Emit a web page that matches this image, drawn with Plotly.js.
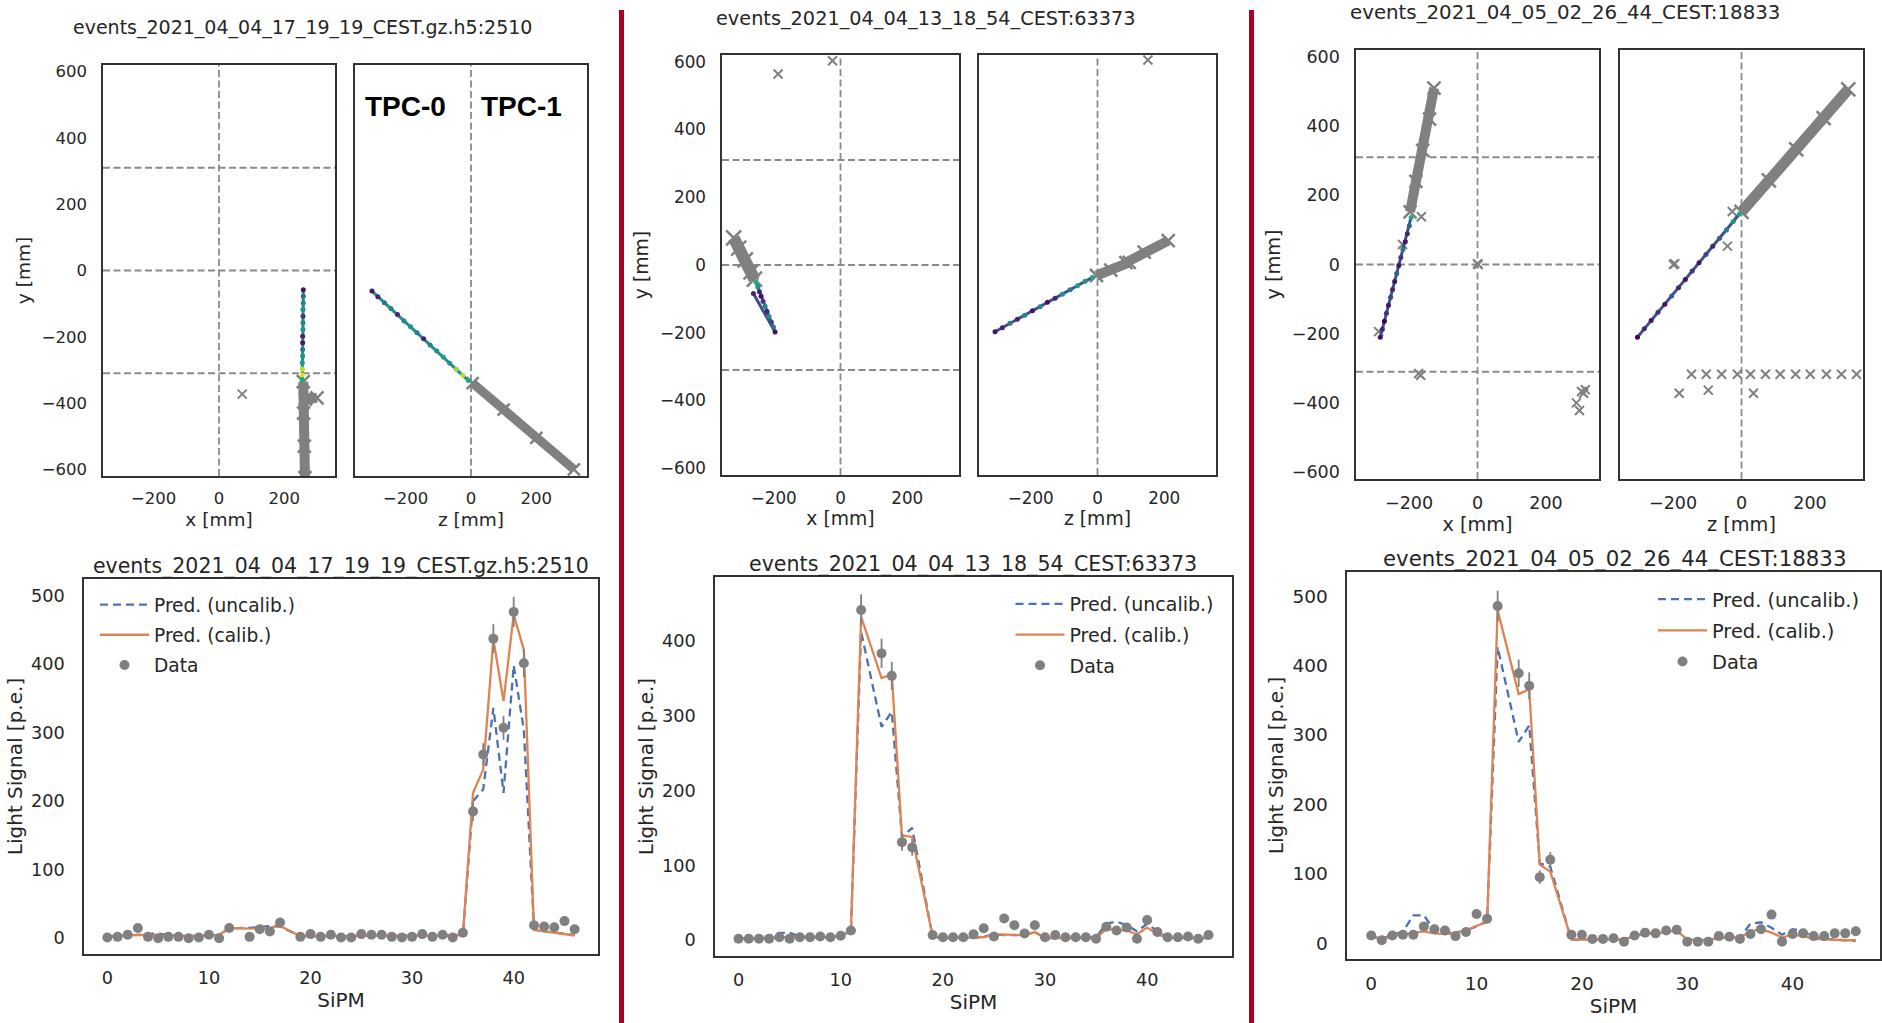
<!DOCTYPE html>
<html><head><meta charset="utf-8">
<script src="https://cdn.plot.ly/plotly-3.0.1.min.js"></script>
<style>html,body{margin:0;padding:0;background:#fff;}#chart{width:1882px;height:1023px;}</style>
</head><body><div id="chart"></div>
<script>
// ================= DATA =================
const eventNames = [
  "events_2021_04_04_17_19_19_CEST.gz.h5:2510",
  "events_2021_04_04_13_18_54_CEST:63373",
  "events_2021_04_05_02_26_44_CEST:18833"
];
const tpcLabels = ["TPC-0", "TPC-1"];
const tpcLabelZ = [-199, 156];
const tpcLabelY = [496, 496];
const boundaryY = [-310, 0, 310];
const boundaryX = [0];
const topXTicks = [-200, 0, 200];
const topYTicks = [-600, -400, -200, 0, 200, 400, 600];
const sipmTicks = [0, 10, 20, 30, 40];
const signalTicks1 = [0, 100, 200, 300, 400, 500];
const signalTicks2 = [0, 100, 200, 300, 400];
const signalTicks3 = [0, 100, 200, 300, 400, 500];

// ---- event 1 (17_19_19) track ----
const ev1TrackX = [258,258,258,257,257,257,257,256,256,256,256,255,255,255,255];
const ev1TrackXY = [-58,-78,-98,-118,-138,-158,-178,-198,-218,-238,-258,-278,-298,-315,-330];
const ev1TrackXC = [0.05,0.35,0.45,0.5,0.15,0.45,0.5,0.1,0.05,0.4,0.5,0.55,0.9,0.95,0.6];
const ev1TrackZ = [-303,-285,-265,-245,-225,-205,-185,-165,-145,-125,-105,-85,-65,-45,-25,-8];
const ev1TrackZY = [-62,-79,-97,-115,-133,-152,-170,-188,-206,-225,-243,-261,-280,-298,-316,-332];
const ev1TrackZC = [0.05,0.1,0.4,0.45,0.1,0.45,0.5,0.4,0.1,0.45,0.5,0.55,0.5,0.85,0.9,0.6];
const ev1BandX = [258,259,261,263,null,264,300];
const ev1BandXY = [-335,-430,-530,-625,null,-388,-384];
const ev1BandZ = [5,100,200,315];
const ev1BandZY = [-340,-420,-505,-600];
const ev1OutX = [71];
const ev1OutXY = [-373];
const ev1OutZ = [];
const ev1OutZY = [];

// ---- event 2 (13_18_54) track ----
const ev2TrackX = [-253,-248,-243,-238,-232,-226,-220,-214,-207,-201,-196,-261];
const ev2TrackXY = [-51,-65,-79,-92,-107,-122,-137,-152,-168,-183,-198,-84];
const ev2TrackXC = [0.6,0.5,0.1,0.05,0.15,0.45,0.1,0.5,0.2,0.4,0.05,0.1];
const ev2TrackZ = [-307,-285,-262,-240,-218,-195,-172,-150,-127,-105,-82,-60,-37,-15];
const ev2TrackZY = [-197,-185,-172,-160,-148,-135,-123,-110,-98,-86,-73,-61,-48,-36];
const ev2TrackZC = [0.05,0.1,0.4,0.1,0.45,0.05,0.45,0.05,0.1,0.5,0.4,0.55,0.5,0.6];
const ev2BandX = [-320,-305,-285,-268,-258];
const ev2BandXY = [80,50,15,-20,-42];
const ev2BandZ = [-3,40,95,null,85,140,212];
const ev2BandZY = [-31,-15,8,null,7,38,72];
const ev2OutX = [-187,-24];
const ev2OutXY = [564,603];
const ev2OutZ = [151];
const ev2OutZY = [605];

// ---- event 3 (02_26_44) track ----
const ev3TrackX = [-284,-278,-272,-266,-260,-254,-248,-242,-236,-230,-224,-218,-211,-205,-199,-194];
const ev3TrackXY = [-210,-187,-164,-141,-118,-95,-72,-49,-26,-3,20,43,66,89,112,136];
const ev3TrackXC = [0.05,0.1,0.0,0.15,0.05,0.2,0.1,0.05,0.3,0.05,0.15,0.4,0.05,0.1,0.3,0.6];
const ev3TrackZ = [-304,-284,-264,-244,-224,-204,-184,-164,-144,-124,-104,-84,-64,-44,-24,-6];
const ev3TrackZY = [-210,-186,-162,-138,-115,-91,-67,-43,-19,5,29,53,76,100,124,146];
const ev3TrackZC = [0.0,0.1,0.05,0.15,0.05,0.3,0.1,0.05,0.15,0.05,0.2,0.1,0.3,0.4,0.5,0.6];
const ev3BandX = [-197,-180,-160,-140,-127];
const ev3BandXY = [152,240,330,420,510];
const ev3BandZ = [0,80,160,240,312];
const ev3BandZY = [152,243,333,423,506];
const ev3OutX = [-289,-219,-164,-172,-166,2,0,304,310,289,298,315];
const ev3OutXY = [-194,58,138,-315,-320,0,2,-367,-372,-400,-422,-362];
const ev3OutZ = [-27,-41,-199,-195,-146,-103,-58,-12,26,70,113,158,201,248,292,336,-182,-97,35];
const ev3OutZY = [153,53,0,2,-317,-317,-317,-317,-317,-317,-317,-317,-317,-317,-317,-317,-372,-363,-372];

// ---- light signal per SiPM ----
const sipm = [0,1,2,3,4,5,6,7,8,9,10,11,12,14,15,16,17,19,20,21,22,23,24,25,26,27,28,29,30,31,32,33,34,35,36,37,38,39,40,41,42,43,44,45,46];
const data1 = [1,2,5,15,2,0,2,2,0,1,5,0,15, 2,13,10,23, 2,6,2,5,1,1,6,5,5,2,1,2,6,2,5,1,8,185,268,437,307,476,401,19,17,16,25,13];
const err1 = [1,1.5,2.2,3.9,1.5,1,1.5,1.5,1,1,2.2,1,3.9, 1.5,3.6,3.2,4.8, 1.5,2.4,1.5,2.2,1,1,2.4,2.2,2.2,1.5,1,1.5,2.4,1.5,2.2,1,2.8,13.6,16.4,21,17.5,22,20,4.4,4.1,4,5,3.6];
const calib1 = [3,3,4,5,5,4,3,3,3,3,4,5,15, 14,15,15,18, 3,3,3,3,3,3,4,4,4,3,3,3,4,4,4,4,6,212,246,436,346,472,421,12,10,8,6,4];
const uncalib1 = [2,3,4,5,7,7,4,3,3,3,4,5,14, 15,16,18,17, 3,3,3,3,3,3,4,4,4,3,3,3,4,4,4,4,5,200,217,336,212,398,304,14,10,8,6,5];

const data2 = [2,2,2,2,4,2,4,4,5,4,6,13,441, 383,353,131,124, 7,4,4,4,8,16,5,29,20,9,20,4,7,4,4,4,2,18,13,17,2,27,11,4,4,5,2,7];
const err2 = [1.4,1.4,1.4,1.4,2,1.4,2,2,2.2,2,2.4,3.6,21, 19.6,18.8,11.4,11.1, 2.6,2,2,2,2.8,4,2.2,5.4,4.5,3,4.5,2,2.6,2,2,2,1.4,4.2,3.6,4.1,1.4,5.2,3.3,2,2,2.2,1.4,2.6];
const calib2 = [2,2,2,3,4,4,3,3,3,4,6,12,432, 350,355,140,138, 5,3,3,3,3,4,8,8,8,7,11,3,3,3,3,3,3,15,14,13,8,17,8,3,3,3,3,3];
const uncalib2 = [2,2,3,6,10,10,5,4,4,4,6,12,412, 285,305,138,150, 5,3,3,3,3,5,8,7,7,7,11,3,3,3,3,3,4,22,25,20,12,22,12,4,3,3,3,3];

const data3 = [11,4,11,12,12,24,20,18,10,16,42,35,486, 389,371,95,120, 12,12,6,6,7,2,11,15,14,18,19,2,2,2,10,9,6,13,20,41,2,13,14,10,10,14,14,17];
const err3 = [3.3,2,3.3,3.5,3.5,4.9,4.5,4.2,3.2,4,6.5,5.9,22, 19.7,19.3,9.7,11, 3.5,3.5,2.4,2.4,2.6,1.4,3.3,3.9,3.7,4.2,4.4,1.4,1.4,1.4,3.2,3,2.4,3.6,4.5,6.4,1.4,3.6,3.7,3.2,3.2,3.7,3.7,4.1];
const calib3 = [10,5,10,12,14,17,14,13,14,18,25,30,480, 359,366,113,103, 5,5,5,5,5,5,10,14,14,16,18,5,4,4,8,8,8,17,20,15,8,12,10,6,5,5,4,4];
const uncalib3 = [10,6,12,16,40,40,18,15,15,18,24,32,427, 290,314,115,110, 5,5,5,5,5,5,10,14,14,16,18,5,4,4,8,8,8,28,30,22,12,20,18,8,6,5,4,3];

// ================= STYLE / LAYOUT =================
const W = 1882, H = 1023;
const FONT = "DejaVu Sans, Verdana, sans-serif";
const TXT = "#262626";
const GREY = "#808080";
const BLUE = "#4C72B0", ORANGE = "#DD8452";
const px = v => v / W;
const py = v => 1 - v / H;

const cols = [
  {tl:[103,335], tr:[355,587], ty:[65,476], bx:[84,598], by:[579,954],
   tickTop:16.5, titleTop:18.5, tickBot:17.7, titleBot:20, legFont:18.6,
   headTop:[302,28,19], headBot:[341,566,20.5], sigRange:[-23,524], sigTicks:signalTicks1,
   leg:{x:95, y:586}, trackLine:'#21918c'},
  {tl:[722,959], tr:[979,1216], ty:[55,475], bx:[715,1232], by:[577,956],
   tickTop:16.8, titleTop:18.8, tickBot:17.7, titleBot:20, legFont:19,
   headTop:[926,19,19.3], headBot:[973,564,20.6], sigRange:[-21,485], sigTicks:signalTicks2,
   leg:{x:1010.5, y:585}, trackLine:'#3b528b'},
  {tl:[1356,1599], tr:[1620,1863], ty:[50,479], bx:[1347,1880], by:[572,959],
   tickTop:17.5, titleTop:19.3, tickBot:18.5, titleBot:20, legFont:19.4,
   headTop:[1565,13,19.8], headBot:[1614,558,21.3], sigRange:[-23,535], sigTicks:signalTicks3,
   leg:{x:1653, y:580}, trackLine:'#3b528b'}
];

const events = [
  {trX:ev1TrackX, trXY:ev1TrackXY, trXC:ev1TrackXC, trZ:ev1TrackZ, trZY:ev1TrackZY, trZC:ev1TrackZC,
   bX:ev1BandX, bXY:ev1BandXY, bZ:ev1BandZ, bZY:ev1BandZY, oX:ev1OutX, oXY:ev1OutXY, oZ:ev1OutZ, oZY:ev1OutZY,
   wX:10, wZ:9, data:data1, err:err1, cal:calib1, unc:uncalib1},
  {trX:ev2TrackX, trXY:ev2TrackXY, trXC:ev2TrackXC, trZ:ev2TrackZ, trZY:ev2TrackZY, trZC:ev2TrackZC,
   bX:ev2BandX, bXY:ev2BandXY, bZ:ev2BandZ, bZY:ev2BandZY, oX:ev2OutX, oXY:ev2OutXY, oZ:ev2OutZ, oZY:ev2OutZY,
   wX:12, wZ:10, data:data2, err:err2, cal:calib2, unc:uncalib2},
  {trX:ev3TrackX, trXY:ev3TrackXY, trXC:ev3TrackXC, trZ:ev3TrackZ, trZY:ev3TrackZY, trZC:ev3TrackZC,
   bX:ev3BandX, bXY:ev3BandXY, bZ:ev3BandZ, bZY:ev3BandZY, oX:ev3OutX, oXY:ev3OutXY, oZ:ev3OutZ, oZY:ev3OutZY,
   wX:10, wZ:11, data:data3, err:err3, cal:calib3, unc:uncalib3}
];

const traces = [];
const layout = {
  width: W, height: H, margin: {l:0, r:0, t:0, b:0},
  paper_bgcolor: '#fff', plot_bgcolor: '#fff',
  font: {family: FONT, color: TXT},
  showlegend: true, annotations: [], shapes: []
};

function baseAxis(o) {
  return Object.assign({showline:true, mirror:true, linecolor:'#333', linewidth:1.6,
    showgrid:false, zeroline:false, ticks:'', fixedrange:true, color:TXT}, o);
}

cols.forEach((c, i) => {
  const e = events[i];
  const n = i * 3;
  const ax = k => (k === 1 ? '' : k);
  const xa = n + 1, xb = n + 2, xc = n + 3;
  const yDom = [py(c.ty[1]), py(c.ty[0])];
  layout['xaxis' + ax(xa)] = baseAxis({domain:[px(c.tl[0]), px(c.tl[1])], anchor:'y' + ax(xa), range:[-355,355],
    tickvals: topXTicks, tickfont:{size:c.tickTop}, ticklabelstandoff:7,
    title:{text:'x [mm]', font:{size:c.titleTop}, standoff:5}});
  layout['yaxis' + ax(xa)] = baseAxis({domain:yDom, anchor:'x' + ax(xa), range:[-620,620],
    tickvals: topYTicks, tickfont:{size:c.tickTop}, ticklabelstandoff:11,
    title:{text:'y [mm]', font:{size:c.titleTop}, standoff:6}});
  layout['xaxis' + xb] = baseAxis({domain:[px(c.tr[0]), px(c.tr[1])], anchor:'y' + xb, range:[-355,355],
    tickvals: topXTicks, tickfont:{size:c.tickTop}, ticklabelstandoff:7,
    title:{text:'z [mm]', font:{size:c.titleTop}, standoff:5}});
  layout['yaxis' + xb] = baseAxis({domain:yDom, anchor:'x' + xb, range:[-620,620],
    tickvals: topYTicks, showticklabels:false});
  layout['xaxis' + xc] = baseAxis({domain:[px(c.bx[0]), px(c.bx[1])], anchor:'y' + xc, range:[-2.3,48.3],
    tickvals: sipmTicks, tickfont:{size:c.tickBot}, ticklabelstandoff:7,
    title:{text:'SiPM', font:{size:c.titleBot}, standoff:2}});
  layout['yaxis' + xc] = baseAxis({domain:[py(c.by[1]), py(c.by[0])], anchor:'x' + xc, range:c.sigRange,
    tickvals: c.sigTicks, tickfont:{size:c.tickBot}, ticklabelstandoff:14,
    title:{text:'Light Signal [p.e.]', font:{size:c.titleBot}, standoff:3}});

  const dash = {color:'#8a8a8a', width:1.8, dash:'7px,3.5px'};
  boundaryY.forEach(v => layout.shapes.push({type:'line', layer:'below', xref:'x' + ax(xa) + ' domain', x0:0, x1:1,
    yref:'y' + ax(xa), y0:v, y1:v, line:dash}));
  boundaryX.forEach(v => {
    layout.shapes.push({type:'line', layer:'below', xref:'x' + ax(xa), x0:v, x1:v, yref:'y' + ax(xa) + ' domain', y0:0, y1:1, line:dash});
    layout.shapes.push({type:'line', layer:'below', xref:'x' + xb, x0:v, x1:v, yref:'y' + xb + ' domain', y0:0, y1:1, line:dash});
  });

  const X1 = 'x' + ax(xa), Y1 = 'y' + ax(xa), X2 = 'x' + xb, Y2 = 'y' + xb;
  traces.push({type:'scatter', mode:'lines+markers', x:e.bX, y:e.bXY, xaxis:X1, yaxis:Y1, showlegend:false,
    line:{color:GREY, width:e.wX}, marker:{symbol:'x-thin', size:e.wX + 3, line:{color:GREY, width:2.5}}, hoverinfo:'skip'});
  traces.push({type:'scatter', mode:'lines+markers', x:e.bZ, y:e.bZY, xaxis:X2, yaxis:Y2, showlegend:false,
    line:{color:GREY, width:e.wZ}, marker:{symbol:'x-thin', size:e.wZ + 3, line:{color:GREY, width:2.5}}, hoverinfo:'skip'});
  traces.push({type:'scatter', mode:'markers', x:e.oX, y:e.oXY, xaxis:X1, yaxis:Y1, showlegend:false,
    marker:{symbol:'x-thin', size:9, line:{color:GREY, width:2}}, hoverinfo:'skip'});
  traces.push({type:'scatter', mode:'markers', x:e.oZ, y:e.oZY, xaxis:X2, yaxis:Y2, showlegend:false,
    marker:{symbol:'x-thin', size:9, line:{color:GREY, width:2}}, hoverinfo:'skip'});
  traces.push({type:'scatter', mode:'lines+markers', x:e.trX, y:e.trXY, xaxis:X1, yaxis:Y1, showlegend:false,
    line:{color:c.trackLine, width:3}, marker:{size:5, color:e.trXC, colorscale:'Viridis', cmin:0, cmax:1}, hoverinfo:'skip'});
  traces.push({type:'scatter', mode:'lines+markers', x:e.trZ, y:e.trZY, xaxis:X2, yaxis:Y2, showlegend:false,
    line:{color:c.trackLine, width:3}, marker:{size:5, color:e.trZC, colorscale:'Viridis', cmin:0, cmax:1}, hoverinfo:'skip'});

  const X3 = 'x' + xc, Y3 = 'y' + xc;
  const legName = i === 0 ? 'legend' : 'legend' + (i + 1);
  traces.push({type:'scatter', mode:'lines', x:sipm, y:e.unc, xaxis:X3, yaxis:Y3, name:'Pred. (uncalib.)',
    legend:legName, legendgroup:'u' + i, line:{color:BLUE, width:2.3, dash:'8px,5px'}});
  traces.push({type:'scatter', mode:'lines', x:sipm, y:e.cal, xaxis:X3, yaxis:Y3, name:'Pred. (calib.)',
    legend:legName, legendgroup:'c' + i, line:{color:ORANGE, width:2.3}});
  traces.push({type:'scatter', mode:'markers', x:sipm, y:e.data, xaxis:X3, yaxis:Y3, name:'Data',
    legend:legName, legendgroup:'d' + i, marker:{color:GREY, size:10},
    error_y:{type:'data', array:e.err, visible:true, color:GREY, thickness:1.8, width:0}});

  layout[legName] = {x:px(c.leg.x), y:py(c.leg.y), xanchor:'left', yanchor:'top',
    bgcolor:'rgba(0,0,0,0)', borderwidth:0, font:{size:c.legFont, color:TXT, family:FONT},
    traceorder:'grouped', tracegroupgap:3, itemwidth:49};

  layout.annotations.push({xref:'paper', yref:'paper', x:px(c.headTop[0]), y:py(c.headTop[1]), xanchor:'center', yanchor:'middle',
    text:eventNames[i], showarrow:false, font:{size:c.headTop[2], color:TXT}});
  layout.annotations.push({xref:'paper', yref:'paper', x:px(c.headBot[0]), y:py(c.headBot[1]), xanchor:'center', yanchor:'middle',
    text:eventNames[i], showarrow:false, font:{size:c.headBot[2], color:TXT}});
});

tpcLabels.forEach((t, k) => layout.annotations.push({xref:'x2', yref:'y2', x:tpcLabelZ[k], y:tpcLabelY[k],
  text:'<b>' + t + '</b>', showarrow:false, font:{family:'Liberation Sans, Arial, sans-serif', size:28, color:'#000'}}));

[[619,624],[1249,1254]].forEach(s => layout.shapes.push({type:'rect', xref:'paper', yref:'paper',
  x0:px(s[0]), x1:px(s[1]), y0:0, y1:py(10), fillcolor:'#AE0024', line:{width:0}, layer:'above'}));

Plotly.newPlot('chart', traces, layout, {staticPlot:true, displayModeBar:false});
</script>
</body></html>
